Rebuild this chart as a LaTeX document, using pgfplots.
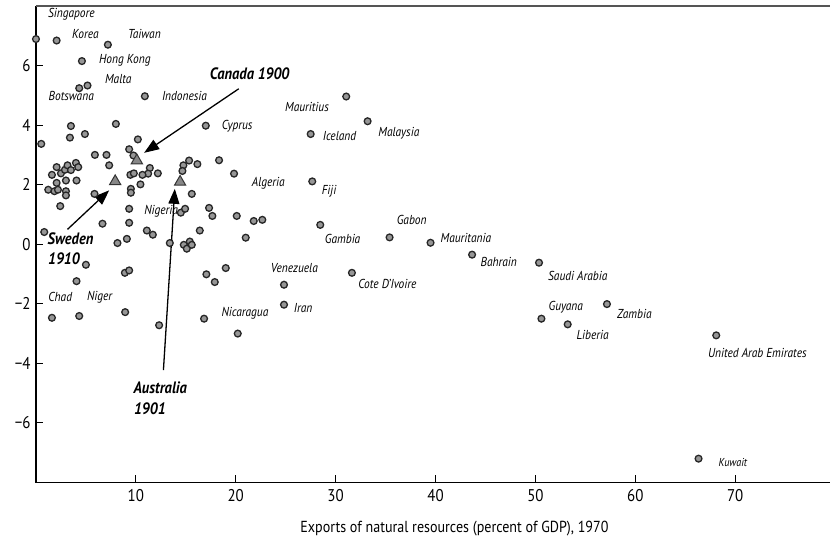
\documentclass[border=0pt]{standalone}
\usepackage{fontspec}
\setmainfont{PT Sans}[FakeStretch=0.88]
\usepackage{pgfplots}
\pgfplotsset{compat=1.18}
\usetikzlibrary{arrows.meta}
\definecolor{ptfill}{RGB}{150,150,150}
\definecolor{trifill}{RGB}{135,135,135}
\definecolor{topline}{RGB}{85,85,85}

\pgfplotstableread{
x y
0.0 6.89
2.07 6.84
7.2 6.70
4.6 6.15
4.33 5.24
5.16 5.33
10.9 4.97
8.0 4.04
17.0 3.98
3.5 3.97
3.4 3.58
4.9 3.70
0.53 3.37
10.2 3.52
9.33 3.19
9.76 2.98
5.9 3.0
7.06 3.0
7.33 2.65
18.33 2.82
15.33 2.81
14.76 2.65
16.16 2.69
14.66 2.46
19.83 2.37
11.4 2.56
12.2 2.38
11.23 2.37
10.66 2.33
9.45 2.33
9.8 2.38
10.46 2.01
2.07 2.59
1.6 2.33
2.5 2.38
2.9 2.50
3.16 2.65
3.5 2.49
4.0 2.73
4.23 2.59
3.0 2.14
4.06 2.14
2.07 2.06
1.23 1.83
1.85 1.78
2.2 1.83
3.0 1.78
3.0 1.64
2.43 1.28
5.86 1.69
6.66 0.69
0.83 0.41
8.16 0.04
9.1 0.18
9.33 0.72
9.33 1.19
9.5 1.86
9.5 1.73
11.1 0.46
11.7 0.32
13.4 0.04
14.8 -0.02
15.1 -0.15
15.4 0.09
15.6 -0.02
14.5 1.06
14.93 1.19
15.6 1.69
16.4 0.46
17.33 1.22
17.66 0.95
20.1 0.95
21.0 0.22
21.8 0.78
22.66 0.82
5.0 -0.69
4.06 -1.24
8.9 -0.96
9.33 -0.88
17.06 -1.01
17.9 -1.27
19.0 -0.80
1.6 -2.47
4.33 -2.41
8.93 -2.28
12.33 -2.72
16.83 -2.50
20.2 -3.0
31.06 4.96
33.2 4.13
27.5 3.70
27.66 2.11
28.46 0.65
35.4 0.23
39.5 0.05
43.66 -0.35
50.36 -0.62
24.83 -1.36
31.63 -0.96
24.83 -2.03
50.6 -2.50
53.23 -2.69
57.16 -2.01
68.1 -3.06
66.33 -7.2
}\countries

\pgfplotstableread{
x y
7.93 2.11
10.1 2.81
14.43 2.09
}\historic

\begin{document}
\begin{tikzpicture}[
  lab/.style={font=\fontsize{13bp}{15bp}\selectfont\itshape, anchor=west, inner sep=0pt},
  blab/.style={font=\fontsize{16.5bp}{18bp}\selectfont\bfseries\itshape, anchor=west, inner sep=0pt},
  arr/.style={-{Triangle[length=15bp,width=11bp]}, line width=1.3bp}]
\begin{axis}[
  scale only axis, width=795bp, height=477bp,
  xmin=0, xmax=79.5, ymin=-8, ymax=8,
  axis line style={draw=none},
  tick align=inside, major tick length=7bp,
  tick style={black, line width=0.9bp},
  xtick={10,20,30,40,50,60,70}, ytick={-6,-4,-2,0,2,4,6},
  xticklabels={10,20,30,40,50,60,70},
  yticklabels={−6,−4,−2,0,2,4,6},
  ticklabel style={font=\fontsize{17bp}{19bp}\selectfont},
  xticklabel style={yshift=-3bp},
  yticklabel style={xshift=-2bp},
  xtick pos=bottom, ytick pos=left,
  xlabel={Exports of natural resources (percent of GDP), 1970},
  xlabel style={font=\fontsize{16bp}{18bp}\selectfont, at={(rel axis cs:0.527,0)}, anchor=north, inner sep=0pt, yshift=-38bp},
  clip=false,
]
\draw[line width=1.8bp, black] (rel axis cs:0,1) -- (rel axis cs:0,0) -- (rel axis cs:1,0);
\draw[line width=1.5bp, topline] (rel axis cs:0,1) -- (rel axis cs:1,1);
\path (rel axis cs:0,1) ++(-36bp,6bp) -- (rel axis cs:1,0) ++(0,-61bp);

\addplot[only marks, mark=*, mark size=3.4bp, mark options={fill=ptfill, draw=black!85, line width=1.3bp}] table {\countries};
\addplot[only marks, mark=triangle*, mark size=6.5bp, mark options={fill=trifill, draw=black!80, line width=1bp}] table {\historic};

\draw[arr] (axis cs:20.3,5.22) -- (axis cs:10.83,3.07);
\draw[arr] (axis cs:3.16,0.5) -- (axis cs:7.33,1.81);
\draw[arr] (axis cs:12.76,-4.23) -- (axis cs:13.9,1.86);

\node[lab] at (axis cs:1.2,7.73) {Singapore};
\node[lab] at (axis cs:3.6,7.06) {Korea};
\node[lab] at (axis cs:9.2,7.06) {Taiwan};
\node[lab] at (axis cs:6.3,6.19) {Hong Kong};
\node[lab] at (axis cs:6.9,5.55) {Malta};
\node[lab] at (axis cs:1.26,4.99) {Botswana};
\node[lab] at (axis cs:12.6,4.99) {Indonesia};
\node[lab] at (axis cs:18.6,3.98) {Cyprus};
\node[lab] at (axis cs:24.93,4.60) {Mauritius};
\node[lab] at (axis cs:28.7,3.65) {Iceland};
\node[lab] at (axis cs:34.26,3.73) {Malaysia};
\node[lab] at (axis cs:21.6,2.05) {Algeria};
\node[lab] at (axis cs:28.6,1.78) {Fiji};
\node[lab] at (axis cs:10.83,1.10) {Nigeria};
\node[lab] at (axis cs:28.9,0.18) {Gambia};
\node[lab] at (axis cs:36.1,0.82) {Gabon};
\node[lab] at (axis cs:40.5,0.22) {Mauritania};
\node[lab] at (axis cs:44.5,-0.60) {Bahrain};
\node[lab] at (axis cs:51.26,-1.07) {Saudi Arabia};
\node[lab] at (axis cs:23.5,-0.80) {Venezuela};
\node[lab] at (axis cs:32.26,-1.33) {Cote D’Ivoire};
\node[lab] at (axis cs:25.8,-2.14) {Iran};
\node[lab] at (axis cs:18.56,-2.33) {Nicaragua};
\node[lab] at (axis cs:1.23,-1.77) {Chad};
\node[lab] at (axis cs:5.1,-1.78) {Niger};
\node[lab] at (axis cs:51.3,-2.13) {Guyana};
\node[lab] at (axis cs:54.1,-3.06) {Liberia};
\node[lab] at (axis cs:58.16,-2.33) {Zambia};
\node[lab] at (axis cs:67.26,-3.64) {United Arab Emirates};
\node[lab, font=\fontsize{11.5bp}{13bp}\selectfont\itshape] at (axis cs:68.33,-7.33) {Kuwait};

\node[blab] at (axis cs:17.4,5.72) {Canada 1900};
\node[blab] at (axis cs:1.16,0.18) {Sweden};
\node[blab] at (axis cs:1.2,-0.49) {1910};
\node[blab] at (axis cs:9.76,-4.82) {Australia};
\node[blab] at (axis cs:9.8,-5.52) {1901};
\end{axis}
\end{tikzpicture}
\end{document}
